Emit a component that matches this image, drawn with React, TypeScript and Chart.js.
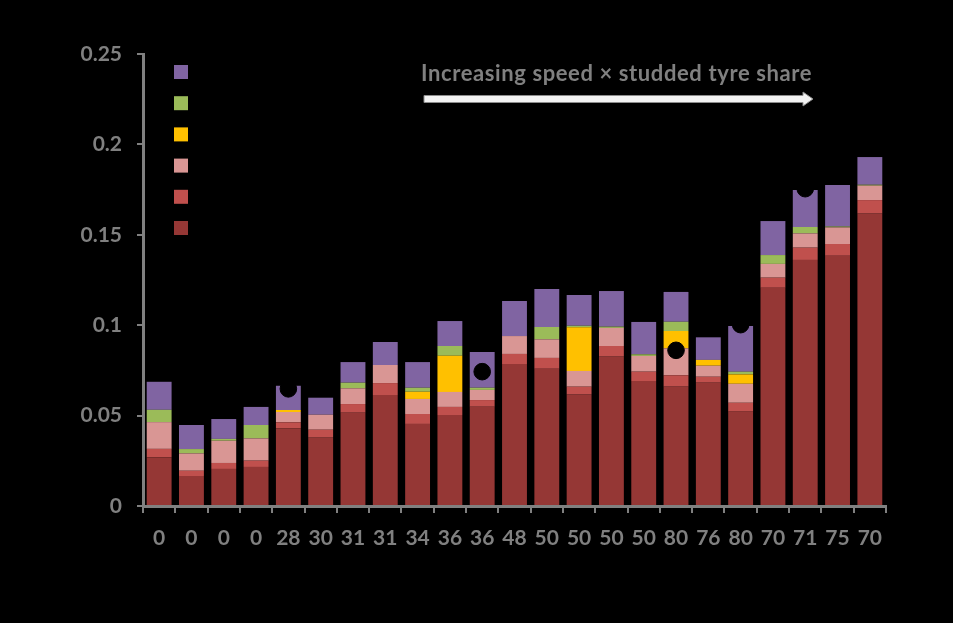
import React, { useEffect, useRef } from "react";
import { Chart, registerables } from "chart.js";

Chart.register(...registerables);

const categories = ["0", "0", "0", "0", "28", "30", "31", "31", "34", "36", "36", "48", "50", "50", "50", "50", "80", "76", "80", "70", "71", "75", "70"];

const darkRed = [0.027, 0.0166, 0.0205, 0.0216, 0.043, 0.0378, 0.0516, 0.0614, 0.0454, 0.0503, 0.0549, 0.0785, 0.0759, 0.0616, 0.0826, 0.0691, 0.066, 0.0682, 0.0522, 0.1207, 0.1361, 0.1384, 0.1617];
const red = [0.0046, 0.0029, 0.0033, 0.0035, 0.0033, 0.0044, 0.0048, 0.0066, 0.0055, 0.0045, 0.0037, 0.0056, 0.006, 0.0044, 0.0059, 0.0052, 0.0063, 0.0033, 0.0049, 0.0056, 0.0068, 0.0065, 0.0075];
const pink = [0.0148, 0.0096, 0.0123, 0.0123, 0.0057, 0.0083, 0.0087, 0.01, 0.0083, 0.0083, 0.0056, 0.0099, 0.0103, 0.0087, 0.01, 0.0087, 0.0149, 0.0061, 0.0105, 0.0076, 0.0079, 0.0092, 0.008];
const yellow = [0, 0, 0, 0, 0.0011, 0, 0, 0, 0.004, 0.02, 0, 0, 0, 0.0241, 0, 0, 0.0096, 0.0032, 0.0052, 0, 0, 0, 0];
const green = [0.0068, 0.0024, 0.001, 0.0074, 0, 0, 0.0031, 0, 0.0022, 0.0054, 0.0012, 0, 0.0068, 0.0009, 0.0007, 0.0009, 0.0051, 0, 0.0015, 0.0049, 0.0035, 0.0005, 0.0005];
const purple = [0.0155, 0.0133, 0.011, 0.01, 0.0134, 0.0094, 0.0114, 0.0127, 0.0142, 0.0138, 0.0198, 0.0194, 0.021, 0.017, 0.0197, 0.0179, 0.0165, 0.0125, 0.0253, 0.0188, 0.0205, 0.0229, 0.0153];
const dots = [null, null, null, null, 0.0648, null, null, null, null, null, 0.0743, null, null, null, null, null, 0.0861, null, 0.1003, null, 0.1755, null, null];

const yTicks = [0, 0.05, 0.1, 0.15, 0.2, 0.25];
const arrowLabel = "Increasing speed \u00d7 studded tyre share";

const seriesNames = ["Component 1", "Component 2", "Component 3", "Component 4", "Component 5", "Component 6"];
const seriesColors = ["#953735", "#C0504D", "#D99694", "#FFC000", "#9BBB59", "#8064A2"];

const FONT = "Lato, 'Open Sans', sans-serif";
const GREY = "#808080";

const decorPlugin = {
  id: "decor",
  beforeDraw(chart: any) {
    const ctx = chart.ctx;
    ctx.save();
    ctx.fillStyle = "#000";
    ctx.fillRect(0, 0, chart.width, chart.height);
    ctx.restore();
  },
  afterDraw(chart: any) {
    const ctx = chart.ctx;
    ctx.save();
    // legend squares (labels are black on black in the original)
    const order = [5, 4, 3, 2, 1, 0];
    order.forEach((si, k) => {
      ctx.fillStyle = seriesColors[si];
      ctx.fillRect(174, 65 + k * 31.2, 14, 14);
    });
    // annotation text
    ctx.fillStyle = GREY;
    ctx.font = `bold 22px ${FONT}`;
    try {
      (ctx as any).letterSpacing = "0.6px";
    } catch (e) {}
    ctx.textBaseline = "middle";
    ctx.textAlign = "left";
    ctx.fillText(arrowLabel, 421, 74);
    try {
      (ctx as any).letterSpacing = "0px";
    } catch (e) {}
    // arrow
    ctx.beginPath();
    ctx.moveTo(424, 95.5);
    ctx.lineTo(803, 95.5);
    ctx.lineTo(803, 92);
    ctx.lineTo(813, 99);
    ctx.lineTo(803, 106);
    ctx.lineTo(803, 102.5);
    ctx.lineTo(424, 102.5);
    ctx.closePath();
    ctx.fillStyle = "#f2f2f2";
    ctx.fill();
    ctx.strokeStyle = "#8c8c8c";
    ctx.lineWidth = 1;
    ctx.stroke();
    ctx.restore();
  },
};

export default function App() {
  const ref = useRef<HTMLCanvasElement | null>(null);

  useEffect(() => {
    document.body.style.margin = "0";
    document.body.style.background = "#000";
    const canvas = ref.current;
    if (!canvas) return;
    const seriesData = [darkRed, red, pink, yellow, green, purple];
    const barSets = seriesData.map((d, i) => ({
      type: "bar" as const,
      label: seriesNames[i],
      data: d,
      backgroundColor: seriesColors[i],
      borderWidth: 0,
      stack: "bars",
      order: 1,
      barPercentage: 0.77,
      categoryPercentage: 1,
    }));
    const chart = new Chart(canvas, {
      type: "bar",
      data: {
        labels: categories,
        datasets: [
          ...barSets,
          {
            type: "line" as const,
            label: "Points",
            data: dots as any,
            showLine: false,
            pointRadius: 8.3,
            pointHoverRadius: 8.3,
            pointBackgroundColor: "#000",
            pointBorderColor: "#000",
            borderColor: "#000",
            backgroundColor: "#000",
            stack: "dots",
            order: 0,
          } as any,
        ],
      },
      options: {
        responsive: false,
        animation: false,
        layout: { padding: { left: 0, right: 67, top: 54, bottom: 0 } },
        plugins: {
          legend: { display: false },
          tooltip: { enabled: false },
          title: { display: false },
        },
        scales: {
          x: {
            stacked: true,
            offset: true,
            border: { color: GREY, width: 3 },
            grid: {
              display: true,
              offset: true,
              drawOnChartArea: false,
              drawTicks: true,
              tickLength: 7,
              color: GREY,
              lineWidth: 2,
            },
            ticks: {
              color: GREY,
              font: { family: FONT, size: 21, weight: "bold" },
              padding: 13,
              maxRotation: 0,
              autoSkip: false,
            },
            afterFit(scale: any) {
              scale.height = 117;
            },
          },
          y: {
            stacked: true,
            min: 0,
            max: 0.25,
            border: { color: GREY, width: 3 },
            grid: {
              display: true,
              drawOnChartArea: false,
              drawTicks: true,
              tickLength: 6,
              color: GREY,
              lineWidth: 2,
            },
            afterBuildTicks(scale: any) {
              scale.ticks = yTicks.map((v) => ({ value: v }));
            },
            ticks: {
              color: GREY,
              font: { family: FONT, size: 21, weight: "bold" },
              padding: 15,
              callback: (v: any) => String(Number(Number(v).toFixed(2))),
            },
            afterFit(scale: any) {
              scale.width = 143;
            },
          },
        },
      },
      plugins: [decorPlugin],
    });
    return () => chart.destroy();
  }, []);

  return (
    <div style={{ width: 953, height: 623, background: "#000" }}>
      <canvas ref={ref} width={953} height={623} style={{ display: "block" }} />
    </div>
  );
}
